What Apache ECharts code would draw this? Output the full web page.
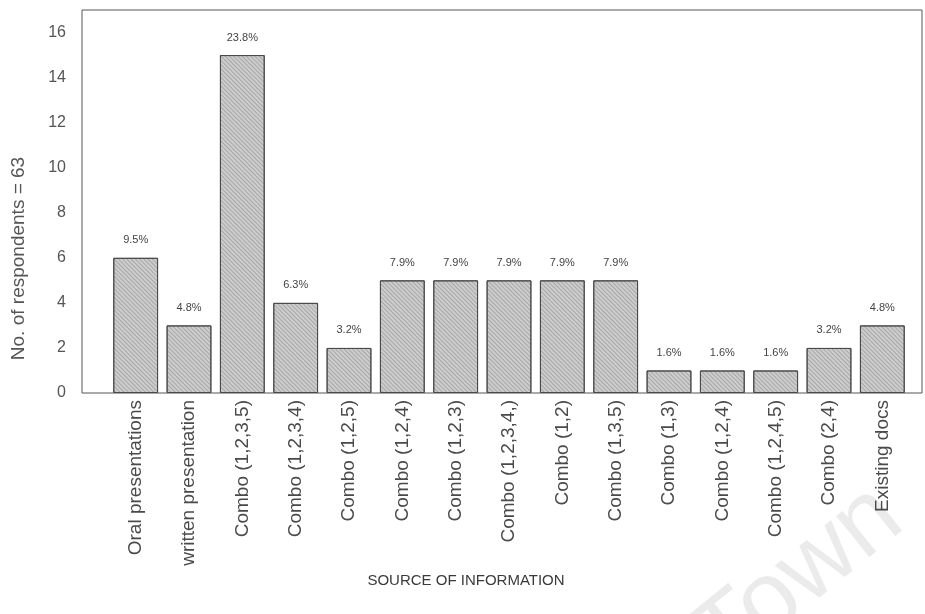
<!DOCTYPE html>
<html>
<head>
<meta charset="utf-8">
<script src="https://cdn.jsdelivr.net/npm/echarts@6/dist/echarts.min.js"></script>
<style>
  html, body { margin: 0; padding: 0; background: #fff; }
  #chart { width: 925px; height: 614px; }
</style>
</head>
<body>
<div id="chart"></div>
<script>
// Sources of information reported by respondents (n = 63)
const categories = [
  'Oral presentations', 'written presentation', 'Combo (1,2,3,5)', 'Combo (1,2,3,4)',
  'Combo (1,2,5)', 'Combo (1,2,4)', 'Combo (1,2,3)', 'Combo (1,2,3,4,)',
  'Combo (1,2)', 'Combo (1,3,5)', 'Combo (1,3)', 'Combo (1,2,4)',
  'Combo (1,2,4,5)', 'Combo (2,4)', 'Existing docs'
];
const respondents = [6, 3, 15, 4, 2, 5, 5, 5, 5, 5, 1, 1, 1, 2, 3];
const percentLabels = [
  '9.5%', '4.8%', '23.8%', '6.3%', '3.2%', '7.9%', '7.9%', '7.9%',
  '7.9%', '7.9%', '1.6%', '1.6%', '1.6%', '3.2%', '4.8%'
];
const yTicks = [0, 2, 4, 6, 8, 10, 12, 14, 16];

const chart = echarts.init(document.getElementById('chart'), null, { renderer: 'canvas' });
const font = 'Liberation Sans, Arial, sans-serif';

chart.setOption({
  backgroundColor: '#ffffff',
  animation: false,
  grid: [
    // plotting area for the bars
    { left: 109, right: 16, top: 10, bottom: 221, show: false },
    // outer frame around the plot
    { left: 82, right: 3, top: 10, bottom: 221, show: true,
      borderColor: '#555', borderWidth: 1, backgroundColor: 'transparent' }
  ],
  xAxis: [
    {
      type: 'category',
      gridIndex: 0,
      data: categories,
      boundaryGap: true,
      axisLine: { show: false },
      axisTick: { show: false },
      axisLabel: {
        interval: 0,
        rotate: 90,
        margin: 7,
        fontFamily: font,
        fontSize: 19,
        color: '#4a4a4a'
      },
      name: 'SOURCE OF INFORMATION',
      nameLocation: 'middle',
      nameGap: 178,
      nameTextStyle: {
        fontFamily: font,
        fontSize: 15,
        color: '#3a3a3a',
        padding: [0, 86, 0, 0]
      }
    },
    { type: 'value', gridIndex: 1, show: false, min: 0, max: 1 }
  ],
  yAxis: [
    {
      type: 'value',
      gridIndex: 0,
      min: 0,
      max: 17,
      interval: 2,
      offset: 27,
      axisLine: { show: false },
      axisTick: { show: false },
      splitLine: { show: false },
      axisLabel: {
        customValues: yTicks,
        margin: 16,
        fontFamily: font,
        fontSize: 16,
        color: '#555'
      },
      name: 'No. of respondents = 63',
      nameLocation: 'middle',
      nameGap: 54,
      nameTextStyle: {
        fontFamily: font,
        fontSize: 19,
        color: '#555',
        padding: [0, 114, 0, 0]
      }
    },
    { type: 'value', gridIndex: 1, show: false, min: 0, max: 1 }
  ],
  series: [
    {
      type: 'bar',
      xAxisIndex: 0,
      yAxisIndex: 0,
      data: respondents,
      barWidth: '84%',
      itemStyle: {
        color: '#cdcdcd',
        borderColor: '#4a4a4a',
        borderWidth: 1,
        decal: {
          symbol: 'rect',
          symbolSize: 1,
          dashArrayX: [1, 0],
          dashArrayY: [1, 2],
          rotation: Math.PI / 4,
          color: 'rgba(80,80,80,0.3)'
        }
      },
      label: {
        show: true,
        position: 'top',
        distance: 12,
        fontFamily: font,
        fontSize: 11,
        color: '#444',
        formatter: p => percentLabels[p.dataIndex]
      }
    }
  ],
  graphic: [
    {
      type: 'text',
      x: 890,
      y: 505,
      rotation: 0.68,
      silent: true,
      style: {
        text: 'Town',
        font: '100px Liberation Sans, Arial, sans-serif',
        fill: 'rgba(0,0,0,0.08)',
        align: 'right',
        verticalAlign: 'middle'
      }
    }
  ]
});
</script>
</body>
</html>
